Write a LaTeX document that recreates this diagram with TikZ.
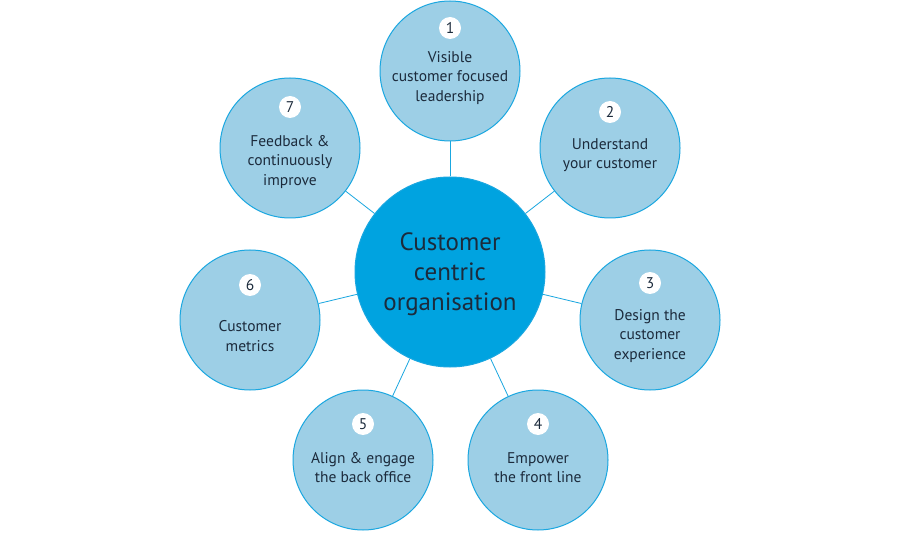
\documentclass[tikz,border=0pt]{standalone}
\usepackage{fontspec}
\setmainfont{PT Sans}
\definecolor{hubblue}{HTML}{00A3E0}
\definecolor{petalblue}{HTML}{9DCFE6}
\definecolor{rimblue}{HTML}{1AA7E0}
\definecolor{inkblue}{HTML}{1C2B3C}

\begin{document}
\begin{tikzpicture}[x=1pt,y=-1pt,
  petal/.style={circle,draw=rimblue,line width=1pt,fill=petalblue,minimum size=140pt,inner sep=0pt},
  hub/.style={circle,draw=rimblue,line width=1pt,fill=hubblue,minimum size=190pt,inner sep=0pt},
  badge/.style={circle,fill=white,minimum size=22pt,inner sep=0pt,text=inkblue,font=\fontsize{15.5}{15.5}\selectfont},
  petaltext/.style={align=center,text=inkblue,font=\fontsize{15.5}{19.5}\selectfont},
  hubtext/.style={align=center,text=inkblue,font=\fontsize{25}{30}\selectfont},
  spoke/.style={draw=rimblue,line width=0.8pt}]
\fill[white] (0,0) rectangle (900,540);
\useasboundingbox (0,0) rectangle (900,540);
% hub
\node[hub] (hub) at (450,272) {};
\node[hubtext] (hubtxt) at (450,274) {Customer\\centric\\organisation};
% petals
\foreach \n/\cx/\cy/\by/\ty/\txt in %
{1/450/71/28/78/{Visible\\customer focused\\leadership},
 2/610/148/112/155/{Understand\\your customer},
 3/650/320/283/336/{Design the\\customer\\experience},
 4/538/460/424/467.5/{Empower\\the front line},
 5/363/460/424/467.5/{Align \& engage\\the back office},
 6/250/320/285/336/{Customer\\metrics},
 7/290/148/107/162/{Feedback \&\\continuously\\improve}} {
   \node[petal] (petal\n) at (\cx,\cy) {};
   \node[badge] (badge\n) at (\cx,\by) {\n};
   \node[petaltext] (text\n) at (\cx,\ty) {\txt};
   \draw[spoke] (hub) -- (petal\n);
}
\end{tikzpicture}
\end{document}
